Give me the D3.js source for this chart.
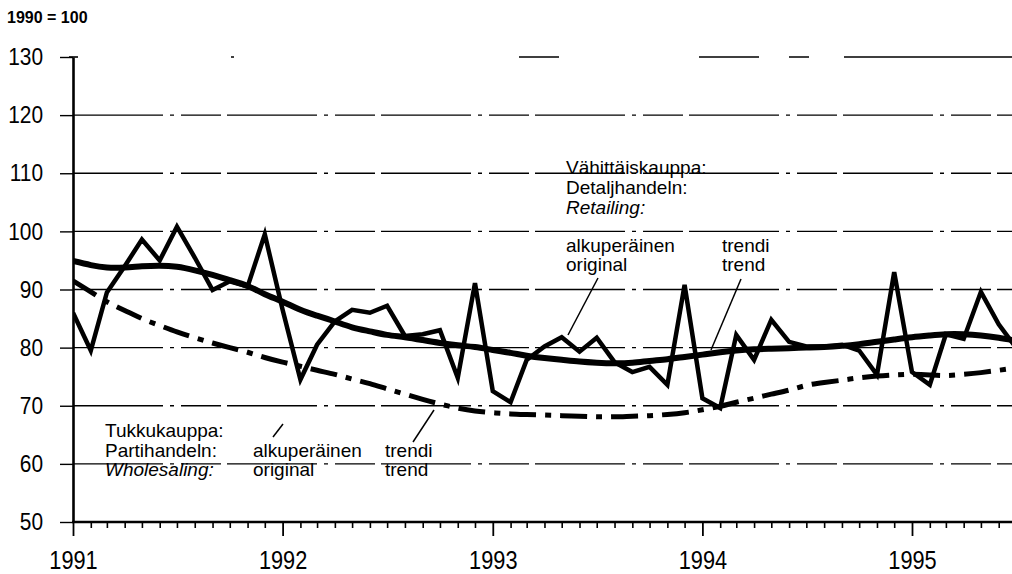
<!DOCTYPE html>
<html>
<head>
<meta charset="utf-8">
<script src="https://cdn.jsdelivr.net/npm/d3@7"></script>
<style>
  body { margin: 0; background: #fff; }
  svg { display: block; }
</style>
</head>
<body>
<div id="chart"></div>
<script>
// Monthly index values, Jan 1991 -> Jul 1995 (1990 = 100)
var startYear = 1991

// Retail, original series
var retailOriginal = [
    86, 79.5, 89.5, 94, 98.6, 95, 100.8, 95.5, 89.9, 91.4, 90.5, 99.5,
    86.5, 74.5, 80.5, 84.5, 86.5, 86, 87.2, 82, 82.3, 83, 74.8, 91.1,
    72.5, 70.6, 77.9, 80.2, 81.8, 79.3, 81.7, 77.5, 75.8, 76.7, 73.6, 90.8,
    71.3, 69.6, 82.2, 77.9, 84.8, 81, 80.2, 80.2, 80.5, 79.5, 75.3, 93,
    75.8, 73.6, 82.3, 81.5, 89.6, 84, 80
]

// Retail, trend
var retailTrend = [
    94.9, 94.2, 93.8, 93.8, 94.0, 94.1, 93.9, 93.3, 92.5, 91.6, 90.6, 89.2,
    87.9, 86.5, 85.5, 84.5, 83.5, 82.8, 82.2, 81.8, 81.3, 80.8, 80.4, 80.1,
    79.6, 79.1, 78.6, 78.2, 77.9, 77.6, 77.4, 77.3, 77.4, 77.7, 78.0, 78.4,
    78.8, 79.2, 79.5, 79.7, 79.8, 79.9, 80.0, 80.1, 80.3, 80.6, 81.0, 81.4,
    81.8, 82.1, 82.3, 82.3, 82.1, 81.7, 81.2
]

// Wholesale, trend
var wholesaleTrend = [
    91.5, 89.6, 87.9, 86.4, 85.0, 83.8, 82.7, 81.7, 80.8, 80.0, 79.2, 78.3,
    77.5, 76.8, 76.1, 75.4, 74.6, 73.8, 72.9, 72.0, 71.1, 70.3, 69.6, 69.1,
    68.8, 68.6, 68.5, 68.4, 68.3, 68.2, 68.1, 68.1, 68.2, 68.3, 68.5, 68.8,
    69.3, 69.9, 70.6, 71.3, 72.0, 72.7, 73.5, 74.0, 74.4, 74.8, 75.1, 75.3,
    75.4, 75.3, 75.2, 75.4, 75.7, 76.1, 76.5
]

var yTicks = [50, 60, 70, 80, 90, 100, 110, 120, 130]
var gridValues = [60, 70, 80, 90, 100, 110, 120, 130]
var yearTicks = [1991, 1992, 1993, 1994, 1995]

var unitLabel = "1990 = 100"
var retailLabels = ["Vähittäiskauppa:", "Detaljhandeln:", "Retailing:"]
var wholesaleLabels = ["Tukkukauppa:", "Partihandeln:", "Wholesaling:"]
var originalLabels = ["alkuperäinen", "original"]
var trendLabels = ["trendi", "trend"]

// Chart dimensions
var width = 1012
var height = 574
var plotLeft = 73
var plotRight = 1012
var plotTop = 57
var plotBottom = 522

var font = "'Liberation Sans', Arial, sans-serif"

// squeeze text horizontally to get the condensed look of the original
function condense (sel, factor) {
    sel.each(function () {
        var len = this.getComputedTextLength()
        d3.select(this)
            .attr('textLength', len * factor)
            .attr('lengthAdjust', 'spacingAndGlyphs')
    })
}

var svg = d3.select('#chart')
    .append('svg')
    .attr('width', width)
    .attr('height', height)
    .attr('viewBox', "0 0 " + width + " " + height)

// Scales
var xScale = d3.scaleTime()
    .domain([new Date(1991, 0, 1), new Date(1995, 0, 1)])
    .range([plotLeft, 912])

var yScale = d3.scaleLinear()
    .domain([50, 130])
    .range([plotBottom, plotTop])

function monthDate (i) { return new Date(startYear, i, 1) }

// clip so lines stop at the right edge
svg.append('clipPath')
    .attr('id', 'plotClip')
    .append('rect')
    .attr('x', plotLeft)
    .attr('y', 0)
    .attr('width', plotRight - plotLeft)
    .attr('height', height)

// Gridlines (broken, scanned look)
svg.append('g')
    .selectAll('line')
    .data(gridValues)
    .enter()
    .append('line')
        .attr('x1', plotLeft)
        .attr('x2', plotRight)
        .attr('y1', (d) => yScale(d))
        .attr('y2', (d) => yScale(d))
        .attr('stroke', '#000')
        .attr('stroke-width', 1.4)
        .attr('stroke-dasharray', (d) => d == 130 ? "0,158,3,285,40,140,60,30,20,35,400" : "90,7,4,7,40,6")

// Y axis
var yAxis = d3.axisLeft(yScale)
    .tickValues(yTicks)
    .tickSize(13)
    .tickSizeOuter(0)
    .tickPadding(17)

var gy = svg.append('g')
    .attr('transform', "translate(" + plotLeft + ",0)")
    .call(yAxis)
gy.attr('font-family', font).attr('font-size', 24)
gy.select('.domain').attr('stroke-width', 2.6)
gy.selectAll('.tick line').attr('stroke-width', 1.4)
gy.selectAll('.tick text').attr('fill', '#000')
condense(gy.selectAll('.tick text'), 0.87)

// X axis: monthly minor ticks + yearly ticks with labels
var months = d3.timeMonth.range(new Date(1991, 1, 1), new Date(1995, 7, 1))
    .filter((m) => m.getMonth() != 0 && xScale(m) <= plotRight)

var xMinor = d3.axisBottom(xScale)
    .tickValues(months)
    .tickSize(6)
    .tickFormat('')

var xMajor = d3.axisBottom(xScale)
    .tickValues(yearTicks.map((y) => new Date(y, 0, 1)))
    .tickSize(14)
    .tickPadding(15)
    .tickFormat(d3.timeFormat('%Y'))

var gxMinor = svg.append('g')
    .attr('transform', "translate(0," + plotBottom + ")")
    .call(xMinor)
gxMinor.select('.domain').remove()
gxMinor.selectAll('.tick line').attr('stroke-width', 1.6)

var gxMajor = svg.append('g')
    .attr('transform', "translate(0," + plotBottom + ")")
    .call(xMajor)
gxMajor.select('.domain').remove()
gxMajor.attr('font-family', font).attr('font-size', 25)
gxMajor.selectAll('.tick line').attr('stroke-width', 1.8)
gxMajor.selectAll('.tick text').attr('fill', '#000')
condense(gxMajor.selectAll('.tick text'), 0.87)

svg.append('line')
    .attr('x1', plotLeft - 1)
    .attr('x2', plotRight)
    .attr('y1', plotBottom)
    .attr('y2', plotBottom)
    .attr('stroke', '#000')
    .attr('stroke-width', 2.6)

// small cap at the top of the y axis
svg.append('line')
    .attr('x1', plotLeft - 4)
    .attr('x2', plotLeft + 5)
    .attr('y1', yScale(130))
    .attr('y2', yScale(130))
    .attr('stroke', '#000')
    .attr('stroke-width', 1.6)

// Lines
var trendLine = d3.line()
    .x((d, i) => xScale(monthDate(i)))
    .y((d) => yScale(d))
    .curve(d3.curveNatural)

var rawLine = d3.line()
    .x((d, i) => xScale(monthDate(i)))
    .y((d) => yScale(d))

var plot = svg.append('g').attr('clip-path', 'url(#plotClip)')

plot.append('path')
    .datum(wholesaleTrend)
    .attr('d', trendLine)
    .attr('fill', 'none')
    .attr('stroke', '#000')
    .attr('stroke-width', 5)
    .attr('stroke-dasharray', "27,9,6,9")

plot.append('path')
    .datum(retailTrend)
    .attr('d', trendLine)
    .attr('fill', 'none')
    .attr('stroke', '#000')
    .attr('stroke-width', 6)

plot.append('path')
    .datum(retailOriginal)
    .attr('d', rawLine)
    .attr('fill', 'none')
    .attr('stroke', '#000')
    .attr('stroke-width', 4.5)
    .attr('stroke-linejoin', 'miter')

// Texts
svg.append('text')
    .attr('x', 7)
    .attr('y', 23)
    .attr('font-family', font)
    .attr('font-weight', 'bold')
    .attr('font-size', 16)
    .text(unitLabel)

function addBlock (lines, x, y0, step, italicLast) {
    var g = svg.append('g')
        .attr('font-family', font)
        .attr('font-size', 19)
    g.selectAll('text')
        .data(lines)
        .enter()
        .append('text')
            .attr('x', x)
            .attr('y', (d, i) => y0 + i * step)
            .attr('font-style', (d, i) => (italicLast && i == lines.length - 1) ? 'italic' : 'normal')
            .text((d) => d)
}

addBlock(retailLabels, 566, 174, 20, true)
addBlock(originalLabels, 566, 252, 19, false)
addBlock(trendLabels, 722, 252, 19, false)

addBlock(wholesaleLabels, 105, 437, 19.5, true)
addBlock(originalLabels, 253, 457, 19, false)
addBlock(trendLabels, 385, 457, 19, false)

// leader lines from labels to series
var leaders = [
    [[598, 278], [568, 335]],
    [[741, 279], [711, 350]],
    [[273, 437], [283, 424]],
    [[413, 442], [434, 410]]
]
svg.append('g')
    .selectAll('path')
    .data(leaders)
    .enter()
    .append('path')
        .attr('d', d3.line())
        .attr('stroke', '#000')
        .attr('stroke-width', 1.5)
        .attr('fill', 'none')
</script>
</body>
</html>
